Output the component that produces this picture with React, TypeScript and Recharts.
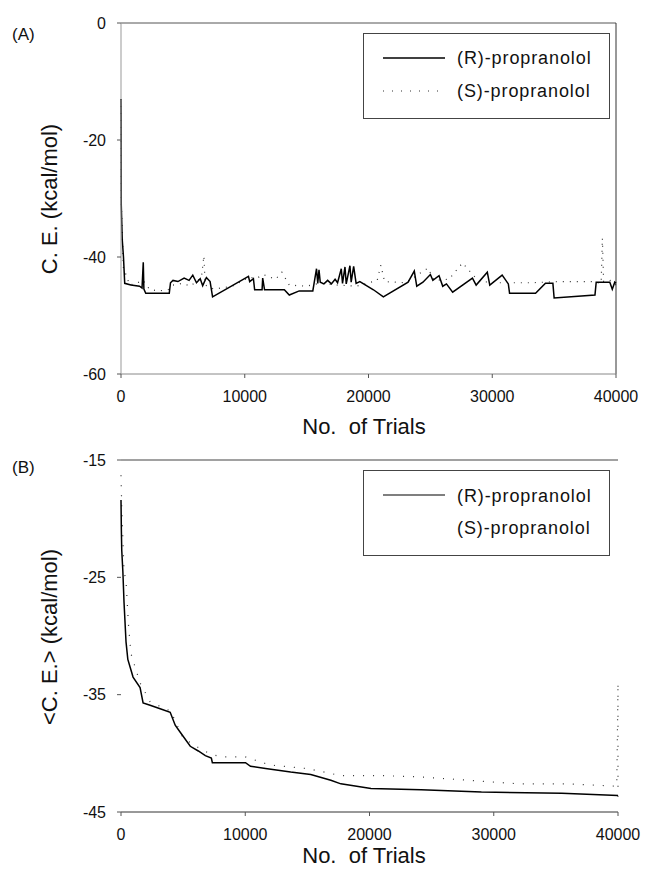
import React from 'react';
import { LineChart, Line, XAxis, YAxis, ReferenceLine } from 'recharts';

const FONT = '"Liberation Sans", Arial, Helvetica, sans-serif';

const trialTicks = [0, 10000, 20000, 30000, 40000];
const ceTicks = [-60, -40, -20, 0];
const avgTicks = [-45, -35, -25, -15];

const seriesNames = ['(R)-propranolol', '(S)-propranolol'];

// Panel A: C.E. per trial
const topRTrials = [0, 10, 20, 100, 200, 300, 800, 1500, 1700, 1800, 1850, 2000, 3900, 4000, 4200, 4600, 5100, 5500, 5800, 6100, 6400, 6600, 6900, 7200, 7400, 10300, 10400, 10700, 10800, 11400, 11450, 11600, 13200, 13600, 14400, 15500, 15800, 15900, 16000, 16100, 16400, 16700, 17000, 17300, 17500, 17800, 17900, 18100, 18200, 18500, 18600, 18800, 19000, 19300, 20400, 21200, 23200, 23700, 23900, 24400, 25000, 25200, 25700, 26000, 26300, 26800, 28400, 28700, 29600, 29800, 30800, 31300, 31400, 33500, 34300, 34900, 35000, 38300, 38400, 39500, 39700, 39900, 40000];
const topRValues = [-13, -16, -31, -37, -40, -44.5, -44.8, -45.0, -45.3, -40.9, -45.5, -46.2, -46.2, -44.4, -44.0, -44.2, -43.6, -44.0, -43.1, -44.4, -43.7, -44.9, -43.5, -44.2, -46.8, -43.3, -44.2, -43.7, -45.6, -45.6, -43.6, -45.6, -45.6, -46.5, -45.8, -45.8, -42.0, -44.5, -42.2, -44.3, -44.6, -44.0, -44.6, -43.8, -44.4, -42.0, -44.5, -41.7, -44.6, -41.5, -44.3, -41.6, -44.5, -44.2, -45.6, -46.8, -44.3, -42.4, -45.0, -44.3, -43.0, -44.0, -43.2, -45.0, -44.6, -46.0, -43.6, -44.8, -42.6, -44.8, -43.1, -44.6, -46.2, -46.2, -44.5, -44.5, -47.0, -46.5, -44.3, -44.3, -45.5, -44.3, -44.5];

const topSTrials = [0, 10, 20, 100, 200, 400, 700, 1200, 1800, 2300, 3000, 3800, 4200, 5000, 5600, 6500, 6700, 6800, 7500, 9000, 10300, 11000, 11500, 12500, 13000, 13600, 15000, 16000, 17500, 19000, 20700, 21000, 21300, 23000, 24800, 25300, 26500, 27600, 28500, 29000, 30500, 33000, 35500, 38000, 38800, 38900, 39000, 39600, 40000];
const topSValues = [-13, -16, -30, -36, -42, -43.0, -44.8, -44.5, -44.0, -45.5, -45.8, -45.6, -44.8, -44.5, -45.0, -43.5, -39.8, -44.8, -45.5, -45.0, -43.5, -43.6, -43.0, -43.8, -42.6, -44.8, -45.0, -44.5, -44.8, -45.0, -44.0, -41.4, -44.2, -44.4, -41.9, -44.0, -43.8, -41.0, -43.2, -44.2, -44.4, -44.4, -44.2, -44.2, -44.5, -36.8, -44.2, -44.0, -44.8];

// Panel B: running average <C.E.>
const botRTrials = [0, 30, 60, 150, 242, 404, 550, 970, 1535, 1778, 2343, 3151, 3959, 4363, 4767, 5575, 6222, 6787, 7272, 7353, 10019, 10423, 11635, 13655, 15271, 16887, 17695, 20119, 24159, 29007, 35471, 40000];
const botRValues = [-18.4, -21, -22.7, -24.5, -27.1, -30.5, -32.0, -33.5, -34.4, -35.7, -35.9, -36.2, -36.5, -37.6, -38.2, -39.4, -39.8, -40.2, -40.4, -40.8, -40.8, -41.1, -41.3, -41.6, -41.8, -42.3, -42.6, -43.0, -43.1, -43.3, -43.4, -43.6];

const botSTrials = [0, 60, 242, 404, 600, 800, 1535, 2343, 3151, 4000, 5000, 6500, 7353, 8000, 10000, 12000, 15000, 17700, 21000, 24000, 28000, 32000, 36000, 39900, 40000, 40000];
const botSValues = [-16.3, -19, -24.5, -25.3, -29, -31.5, -34.0, -35.6, -36.0, -36.4, -38.7, -39.7, -40.1, -40.3, -40.3, -41.0, -41.3, -41.9, -41.9, -42.0, -42.3, -42.6, -42.6, -42.8, -34.0, -44.3];

const zip = (xs: number[], ys: number[]) => xs.map((x, i) => ({ x, y: ys[i] }));

const topR = zip(topRTrials, topRValues);
const topS = zip(topSTrials, topSValues);
const botR = zip(botRTrials, botRValues);
const botS = zip(botSTrials, botSValues);

const tickStyle = { fill: '#111', fontSize: 16, fontFamily: FONT };

export default function App() {
  return (
    <div style={{ position: 'absolute', left: 0, top: 0, width: 647, height: 874, background: '#fff', fontFamily: FONT }}>
      <div style={{ position: 'absolute', left: 0, top: 0 }}>
        <LineChart width={647} height={440} margin={{ top: 23, right: 31, bottom: 26, left: 0 }}>
          <XAxis type="number" dataKey="x" domain={[0, 40000]} ticks={trialTicks} height={40}
            tickSize={4} tickMargin={13} axisLine={{ stroke: '#888' }} tickLine={{ stroke: '#555' }} tick={tickStyle} />
          <YAxis type="number" dataKey="y" domain={[-60, 0]} ticks={ceTicks} width={121}
            tickSize={4} tickMargin={11} axisLine={{ stroke: '#999' }} tickLine={{ stroke: '#555' }} tick={tickStyle} />
          <ReferenceLine y={0} stroke="#555" strokeWidth={1} />
          <ReferenceLine x={40000} stroke="#333" strokeWidth={1} />
          <Line data={topS} dataKey="y" name={seriesNames[1]} type="linear" stroke="#333" strokeWidth={1.2}
            strokeDasharray="1 6" dot={false} isAnimationActive={false} />
          <Line data={topR} dataKey="y" name={seriesNames[0]} type="linear" stroke="#000" strokeWidth={1.5}
            dot={false} isAnimationActive={false} />
        </LineChart>
      </div>
      <div style={{ position: 'absolute', left: 0, top: 440 }}>
        <LineChart width={647} height={434} margin={{ top: 20, right: 29, bottom: 22, left: 0 }}>
          <XAxis type="number" dataKey="x" domain={[0, 40000]} ticks={trialTicks} height={40}
            tickSize={4} tickMargin={13} axisLine={{ stroke: '#333' }} tickLine={{ stroke: '#555' }} tick={tickStyle} />
          <YAxis type="number" dataKey="y" domain={[-45, -15]} ticks={avgTicks} width={121}
            tickSize={4} tickMargin={11} axisLine={false} tickLine={{ stroke: '#555' }} tick={tickStyle} />
          <ReferenceLine y={-15} stroke="#444" strokeWidth={1.2} />
          <Line data={botS} dataKey="y" name={seriesNames[1]} type="linear" stroke="#333" strokeWidth={1.2}
            strokeDasharray="1 9" dot={false} isAnimationActive={false} />
          <Line data={botR} dataKey="y" name={seriesNames[0]} type="linear" stroke="#000" strokeWidth={1.5}
            dot={false} isAnimationActive={false} />
        </LineChart>
      </div>
      <svg width={647} height={874} style={{ position: 'absolute', left: 0, top: 0, pointerEvents: 'none' }}
        fontFamily={FONT}>
        <text x={12} y={40} fontSize={17} fill="#111">(A)</text>
        <text x={12} y={473} fontSize={17} fill="#111">(B)</text>
        <text transform="translate(57,199) rotate(-90)" textAnchor="middle" fontSize={22} fill="#111">C. E. (kcal/mol)</text>
        <text transform="translate(57,637) rotate(-90)" textAnchor="middle" fontSize={22} fill="#111">{'<C. E.> (kcal/mol)'}</text>
        <text x={364} y={434} textAnchor="middle" fontSize={22} fill="#111" style={{ whiteSpace: 'pre' }}>{'No.  of Trials'}</text>
        <text x={364} y={863} textAnchor="middle" fontSize={22} fill="#111" style={{ whiteSpace: 'pre' }}>{'No.  of Trials'}</text>

        <rect x={363.5} y={33.5} width={246} height={85} fill="#fff" stroke="#444" strokeWidth={1} />
        <line x1={383} y1={58} x2={445} y2={58} stroke="#000" strokeWidth={1.5} />
        <text x={457} y={64} fontSize={18} letterSpacing={0.9} fill="#111">{seriesNames[0]}</text>
        <line x1={383} y1={91} x2={445} y2={91} stroke="#333" strokeWidth={1.2} strokeDasharray="1 8" />
        <text x={457} y={97} fontSize={18} letterSpacing={0.9} fill="#111">{seriesNames[1]}</text>

        <rect x={363.5} y={470.5} width={246} height={85} fill="#fff" stroke="#444" strokeWidth={1} />
        <line x1={383} y1={495} x2={445} y2={495} stroke="#000" strokeWidth={1.2} />
        <text x={457} y={502} fontSize={18} letterSpacing={0.9} fill="#111">{seriesNames[0]}</text>
        <text x={457} y={534} fontSize={18} letterSpacing={0.9} fill="#111">{seriesNames[1]}</text>
      </svg>
    </div>
  );
}
